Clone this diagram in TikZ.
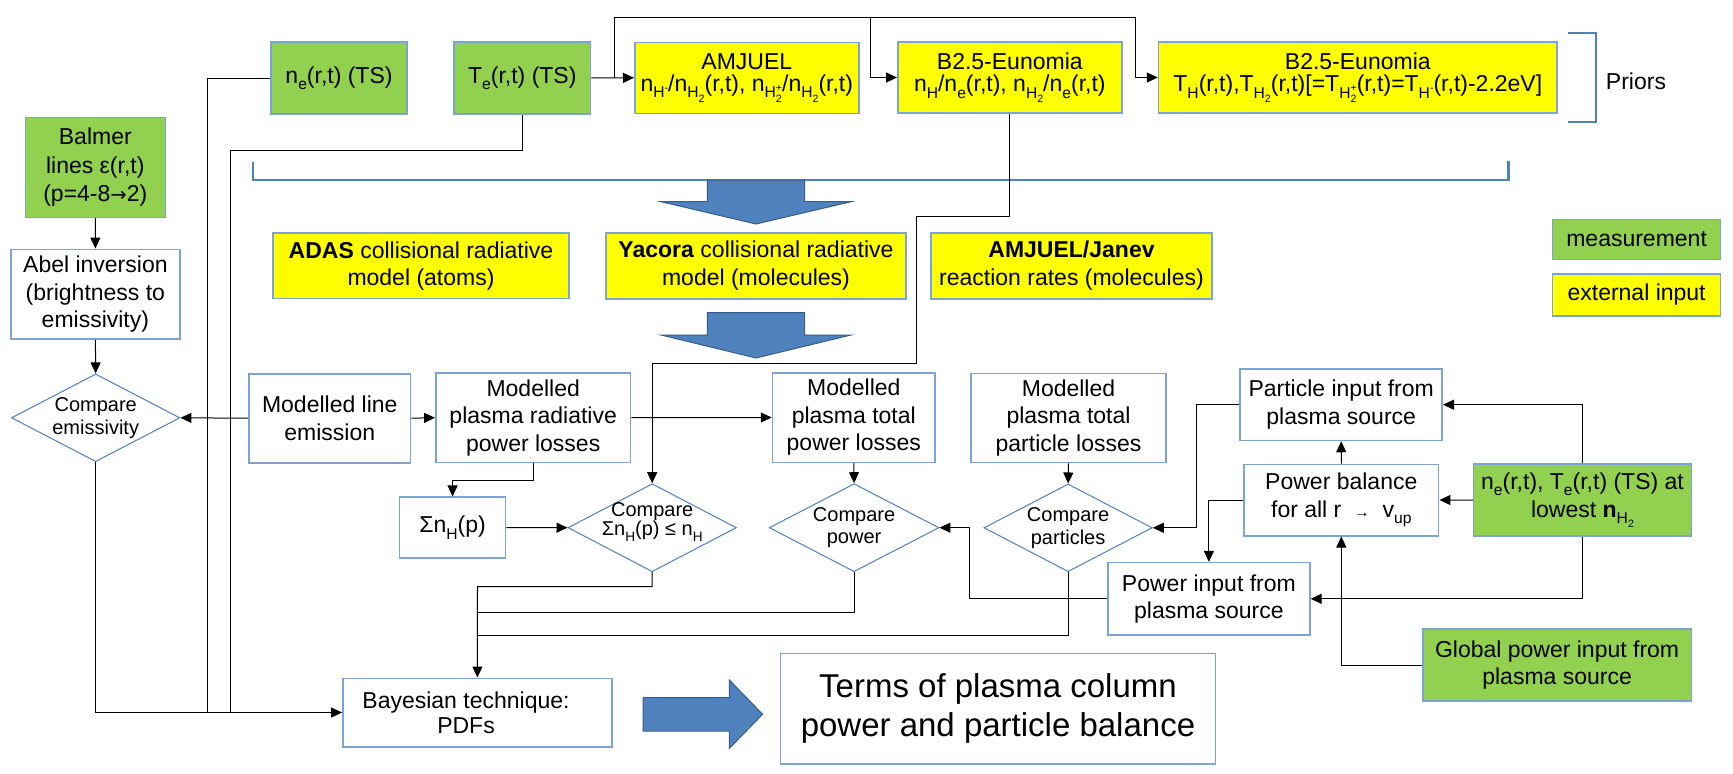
\documentclass[tikz,border=0pt]{standalone}
\usepackage{fontspec}
\setmainfont{Liberation Sans}
\newfontfamily\dvfont{DejaVu Sans}
\usepackage{graphicx}
\usetikzlibrary{shapes.geometric,arrows.meta}
\definecolor{gfill}{RGB}{146,208,80}
\definecolor{yfill}{RGB}{255,255,0}
\definecolor{bord}{RGB}{125,162,212}
\definecolor{dblue}{RGB}{79,129,189}
\definecolor{dkblue}{RGB}{56,93,138}
\newcommand\lo[1]{\raisebox{-0.28em}{\scalebox{0.68}{#1}}}
\newcommand\hi[1]{\raisebox{0.42em}{\scalebox{0.68}{#1}}}
\begin{document}
\begin{tikzpicture}[x=1pt,y=-1pt,
  txt/.style={font=\fontsize{23}{27.5}\selectfont, align=center, inner sep=1pt},
  box/.style={txt, draw=bord, line width=1.6pt, fill=white},
  gbox/.style={box, fill=gfill},
  ybox/.style={box, fill=yfill},
  tight/.style={font=\fontsize{23}{22.5}\selectfont},
  diam/.style={diamond, draw=dblue, line width=1pt, inner sep=0pt, fill=white},
  dtxt/.style={font=\fontsize{20}{22.5}\selectfont, align=center, inner sep=0pt},
  con/.style={draw=black, line width=1pt},
  arr/.style={con, -{Triangle[length=11pt,width=10pt]}},
  bigarrow/.style={fill=dblue, draw=dkblue, line width=1pt},
  brace/.style={draw=dblue, line width=2.4pt},
]
\useasboundingbox (0,0) rectangle (1733,774);
\fill[white] (0,0) rectangle (1733,774);

% brackets
\draw[brace] (253,162) -- (253,180) -- (1508.5,180) -- (1508.5,161);
\draw[brace] (1568,33) -- (1596,33) -- (1596,122) -- (1568,122);
\node[txt] (priors) at (1636,81) {Priors};

% big arrows
\path[bigarrow] (707.4,180) -- (804.6,180) -- (804.6,201.7) -- (851,201.7) -- (756,224) -- (661,201.7) -- (707.4,201.7) -- cycle;
\path[bigarrow] (707.4,312.7) -- (804.6,312.7) -- (804.6,335) -- (851,335) -- (756,358) -- (661,335) -- (707.4,335) -- cycle;
\path[bigarrow] (643,697.7) -- (729.4,697.7) -- (729.4,680) -- (762.6,714.3) -- (729.4,748.3) -- (729.4,731) -- (643,731) -- cycle;

% top row
\node[gbox, minimum width=136pt, minimum height=72pt] (ne) at (339,78) {n\lo{e}(r,t) (TS)};
\node[gbox, minimum width=136.5pt, minimum height=72pt] (te) at (522.3,78) {T\lo{e}(r,t) (TS)};
\node[ybox, tight, minimum width=224pt, minimum height=71pt] (amj) at (746.8,77.8) {AMJUEL\\ n\lo{H\hi{-}}/n\lo{H\lo{2}}(r,t), n\lo{H\rlap{\lo{2}}\hi{+}}/n\lo{H\lo{2}}(r,t)};
\node[ybox, tight, minimum width=224pt, minimum height=71pt] (b25a) at (1009.8,77.5) {B2.5-Eunomia\\ n\lo{H}/n\lo{e}(r,t), n\lo{H\lo{2}}/n\lo{e}(r,t)};
\node[ybox, tight, minimum width=398.5pt, minimum height=71pt] (b25b) at (1357.8,77.5) {B2.5-Eunomia\\ T\lo{H}(r,t),T\lo{H\lo{2}}(r,t)[=T\lo{H\rlap{\lo{2}}\hi{+}}(r,t)=T\lo{H\hi{-}}(r,t)-2.2eV]};

% left column
\node[gbox, font=\fontsize{23}{28.5}\selectfont, minimum width=140pt, minimum height=100pt] (balmer) at (95.3,167.3) {Balmer\\ lines ε(r,t)\\ (p=4-8{\dvfont\scalebox{0.85}{→}}2)};
\node[box, minimum width=169.3pt, minimum height=89.7pt] (abel) at (95.4,294.2) {Abel inversion\\ (brightness to\\ emissivity)};
\node[diam, minimum width=168.5pt, minimum height=87.7pt] (cmpem) at (95.7,417.8) {};
\node[dtxt] (cmpemt) at (95.7,418) {Compare\\ emissivity};

% models
\node[ybox, minimum width=296pt, minimum height=65.5pt] (adas) at (421,265.8) {\textbf{ADAS} collisional radiative\\ model (atoms)};
\node[ybox, minimum width=300pt, minimum height=66pt] (yac) at (756,265.7) {\textbf{Yacora} collisional radiative\\ model (molecules)};
\node[ybox, minimum width=281pt, minimum height=66pt] (jan) at (1071.5,265.7) {\textbf{AMJUEL/Janev}\\ reaction rates (molecules)};

% legend
\node[gbox, minimum width=168pt, minimum height=40pt] (meas) at (1636.6,239.3) {measurement};
\node[ybox, minimum width=168pt, minimum height=42pt] (ext) at (1636.6,295) {external input};

% modelled row
\node[box, minimum width=161.6pt, minimum height=89pt] (lineem) at (329.8,418.2) {Modelled line\\ emission};
\node[box, minimum width=194.6pt, minimum height=89.3pt] (radl) at (533.2,417.7) {Modelled\\ plasma radiative\\ power losses};
\node[box, minimum width=162.5pt, minimum height=89.6pt] (totp) at (853.8,417.5) {Modelled\\ plasma total\\ power losses};
\node[box, minimum width=195pt, minimum height=89.2pt] (totq) at (1068.5,417.9) {Modelled\\ plasma total\\ particle losses};
\node[box, minimum width=202pt, minimum height=71.5pt] (partin) at (1341.2,404.7) {Particle input from\\ plasma source};

% compare row
\node[box, minimum width=106pt, minimum height=60.7pt] (sumn) at (452.6,527.6) {Σn\lo{H}(p)};
\node[diam, minimum width=168.4pt, minimum height=88pt] (cmps) at (652.2,527.7) {};
\node[dtxt, font=\fontsize{20}{19}\selectfont] (cmpst) at (652.2,522) {Compare\\ Σn\lo{H}(p) ≤ n\lo{H}};
\node[diam, minimum width=169.7pt, minimum height=88pt] (cmpp) at (854.1,527.7) {};
\node[dtxt] (cmppt) at (854.1,527.5) {Compare\\ power};
\node[diam, minimum width=168.3pt, minimum height=87.7pt] (cmpq) at (1068.1,527.8) {};
\node[dtxt] (cmpqt) at (1068.1,528) {Compare\\ particles};
\node[box, minimum width=194.7pt, minimum height=71.4pt] (pbal) at (1341.3,500) {Power balance\\ for all r ~\scalebox{0.68}{→}~ v\lo{up}};
\node[gbox, font=\fontsize{23}{28}\selectfont, minimum width=217.8pt, minimum height=71.8pt] (nete) at (1582.5,500.1) {n\lo{e}(r,t), T\lo{e}(r,t) (TS) at\\ lowest \textbf{n}\lo{H\lo{2}}};
\node[box, minimum width=201.8pt, minimum height=72.3pt] (powin) at (1208.9,598.8) {Power input from\\ plasma source};
\node[gbox, minimum width=268.7pt, minimum height=72pt] (glob) at (1557.1,665) {Global power input from\\ plasma source};

% bottom
\node[box, minimum width=269pt, minimum height=68.4pt] (bayes) at (477.4,712.5) {};
\node[txt, font=\fontsize{23}{25.7}\selectfont] (bayest) at (466,712.8) {Bayesian technique:\\ PDFs};
\node[box, font=\fontsize{33}{38.5}\selectfont, minimum width=435pt, minimum height=110.7pt] (terms) at (998,708.7) {Terms of plasma column\\ power and particle balance};

% connectors
\draw[arr] (te.east) -- (amj.west);
\coordinate (tp) at (614.4,78);
\draw[arr] (tp) |- (1135.3,17.7) |- (b25b.west);
\draw[arr] (870.9,17.7) |- (b25a.west);
\draw[con] (ne.west) -| (207.5,712.5);
\draw[con] (te.south) -- (522.3,150.7) -| (230.8,712.5);
\draw[arr] (balmer.south) -- (abel.north);
\draw[arr] (abel.south) -- (cmpem.north);
\draw[arr] (cmpem.south) |- (bayes.west);
\draw[arr] (lineem.west) -- (cmpem.east);
\draw[arr] (lineem.east) -- (radl.west);
\draw[arr] (radl.east) -- (totp.west);
\draw[arr] (radl.south) -- ++(0,17.7) -| (sumn.north);
\draw[arr] (sumn.east) -- (cmps.west);
\draw[arr] (b25a.south) -- (1009.8,216.7) -- (916,216.7) -- (916,363.3) -| (cmps.north);
\draw[arr] (totp.south) -- (cmpp.north);
\draw[arr] (totq.south) -- (cmpq.north);
\draw[arr] (cmps.south) |- (477.5,586.7) -- (bayes.north);
\draw[con] (cmpp.south) |- (477.5,612.7);
\draw[con] (cmpq.south) |- (477.5,635);
\draw[arr] (powin.west) -- (969.7,598.8) |- (cmpp.east);
\draw[arr] (partin.west) -- (1196,404.7) |- (cmpq.east);
\draw[arr] (pbal.north) -- (partin.south);
\draw[arr] (pbal.west) -| (powin.north);
\draw[arr] (nete.west) -- (pbal.east);
\draw[arr] (nete.north) |- (partin.east);
\draw[arr] (nete.south) |- (powin.east);
\draw[arr] (glob.west) -| (pbal.south);
\end{tikzpicture}
\end{document}
